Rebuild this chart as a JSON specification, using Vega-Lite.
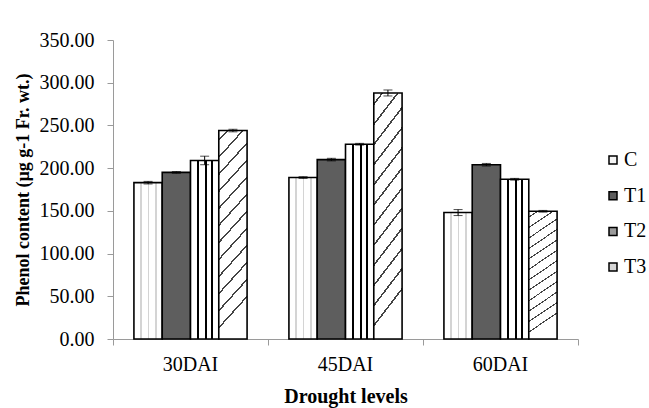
{
  "$schema": "https://vega.github.io/schema/vega-lite/v6.json",
  "width": 465,
  "height": 299,
  "autosize": {"type": "none"},
  "padding": {"left": 113, "top": 40, "right": 71, "bottom": 69},
  "background": "white",
  "config": {
    "view": {"stroke": null},
    "font": "Times New Roman, Liberation Serif, serif",
    "axis": {"labelFont": "Times New Roman, Liberation Serif, serif", "titleFont": "Times New Roman, Liberation Serif, serif", "labelColor": "black", "titleColor": "black", "grid": false, "domainColor": "#9a9a9a", "tickColor": "#9a9a9a"},
    "legend": {"labelFont": "Times New Roman, Liberation Serif, serif"}
  },
  "data": {
    "values": [
      {"day": "30DAI", "trt": "C", "value": 183, "err": 1.5},
      {"day": "30DAI", "trt": "T1", "value": 195, "err": 1},
      {"day": "30DAI", "trt": "T2", "value": 209, "err": 5},
      {"day": "30DAI", "trt": "T3", "value": 244, "err": 1.5},
      {"day": "45DAI", "trt": "C", "value": 189, "err": 1},
      {"day": "45DAI", "trt": "T1", "value": 210, "err": 1.5},
      {"day": "45DAI", "trt": "T2", "value": 228, "err": 1},
      {"day": "45DAI", "trt": "T3", "value": 288, "err": 3.5},
      {"day": "60DAI", "trt": "C", "value": 148, "err": 3.5},
      {"day": "60DAI", "trt": "T1", "value": 204, "err": 1.5},
      {"day": "60DAI", "trt": "T2", "value": 187, "err": 1},
      {"day": "60DAI", "trt": "T3", "value": 149.5, "err": 1}
    ]
  },
  "layer": [
    {
      "encoding": {
        "x": {
          "field": "day", "type": "nominal",
          "scale": {"paddingInner": 0.27, "paddingOuter": 0.135},
          "axis": {"title": "Drought levels", "labelAngle": 0, "ticks": false, "tickSize": 0, "labelFont": "Times New Roman, Liberation Serif, serif", "titleFont": "Times New Roman, Liberation Serif, serif", "labelFontSize": 20, "labelPadding": 15, "titleFontSize": 20, "titleFontWeight": "bold", "titlePadding": 12}
        },
        "xOffset": {"field": "trt", "type": "nominal", "scale": {"domain": ["C", "T1", "T2", "T3"], "paddingInner": 0, "paddingOuter": 0}},
        "y": {
          "field": "value", "type": "quantitative",
          "scale": {"domain": [0, 350], "nice": false},
          "axis": {"values": [0, 50, 100, 150, 200, 250, 300, 350], "format": ".2f", "labelFont": "Times New Roman, Liberation Serif, serif", "titleFont": "Times New Roman, Liberation Serif, serif", "labelFontSize": 20, "labelPadding": 13, "tickSize": 6, "title": "Phenol content (µg g-1 Fr. wt.)", "titleFontSize": 18, "titleFontWeight": "bold", "titlePadding": 7}
        }
      },
      "layer": [
        {
          "transform": [{"filter": "datum.trt === 'C'"}],
          "mark": {"type": "bar", "stroke": "black", "strokeWidth": 1.6,
            "fill": {"gradient": "linear", "x1": 0, "y1": 0, "x2": 1, "y2": 0, "stops": [
              {"offset": 0, "color": "white"}, {"offset": 0.22, "color": "white"}, {"offset": 0.22, "color": "#d4d4d4"}, {"offset": 0.27, "color": "#d4d4d4"}, {"offset": 0.27, "color": "white"},
              {"offset": 0.5, "color": "white"}, {"offset": 0.5, "color": "#d4d4d4"}, {"offset": 0.55, "color": "#d4d4d4"}, {"offset": 0.55, "color": "white"},
              {"offset": 0.76, "color": "white"}, {"offset": 0.76, "color": "#d4d4d4"}, {"offset": 0.81, "color": "#d4d4d4"}, {"offset": 0.81, "color": "white"}, {"offset": 1, "color": "white"}
            ]}}
        },
        {
          "transform": [{"filter": "datum.trt === 'T1'"}],
          "mark": {"type": "bar", "stroke": "black", "strokeWidth": 1.6, "fill": "#5e5e5e"}
        },
        {
          "transform": [{"filter": "datum.trt === 'T2'"}],
          "mark": {"type": "bar", "stroke": "black", "strokeWidth": 1.6,
            "fill": {"gradient": "linear", "x1": 0, "y1": 0, "x2": 1, "y2": 0, "stops": [
              {"offset": 0, "color": "white"}, {"offset": 0.24, "color": "white"}, {"offset": 0.24, "color": "black"}, {"offset": 0.31, "color": "black"}, {"offset": 0.31, "color": "white"},
              {"offset": 0.5, "color": "white"}, {"offset": 0.5, "color": "black"}, {"offset": 0.57, "color": "black"}, {"offset": 0.57, "color": "white"},
              {"offset": 0.74, "color": "white"}, {"offset": 0.74, "color": "black"}, {"offset": 0.81, "color": "black"}, {"offset": 0.81, "color": "white"}, {"offset": 1, "color": "white"}
            ]}}
        },
        {
          "transform": [{"filter": "datum.trt === 'T3'"}],
          "mark": {"type": "bar", "stroke": "black", "strokeWidth": 1.6,
            "fill": {"gradient": "linear", "x1": 0, "y1": 0, "x2": 0.15, "y2": 1, "stops": [
              {"offset": 0, "color": "white"}, {"offset": 0.04, "color": "white"}, {"offset": 0.04, "color": "#444"}, {"offset": 0.05, "color": "#444"}, {"offset": 0.05, "color": "white"},
              {"offset": 0.12, "color": "white"}, {"offset": 0.12, "color": "#444"}, {"offset": 0.13, "color": "#444"}, {"offset": 0.13, "color": "white"},
              {"offset": 0.2, "color": "white"}, {"offset": 0.2, "color": "#444"}, {"offset": 0.21, "color": "#444"}, {"offset": 0.21, "color": "white"},
              {"offset": 0.28, "color": "white"}, {"offset": 0.28, "color": "#444"}, {"offset": 0.29, "color": "#444"}, {"offset": 0.29, "color": "white"},
              {"offset": 0.36, "color": "white"}, {"offset": 0.36, "color": "#444"}, {"offset": 0.37, "color": "#444"}, {"offset": 0.37, "color": "white"},
              {"offset": 0.44, "color": "white"}, {"offset": 0.44, "color": "#444"}, {"offset": 0.45, "color": "#444"}, {"offset": 0.45, "color": "white"},
              {"offset": 0.52, "color": "white"}, {"offset": 0.52, "color": "#444"}, {"offset": 0.53, "color": "#444"}, {"offset": 0.53, "color": "white"},
              {"offset": 0.6, "color": "white"}, {"offset": 0.6, "color": "#444"}, {"offset": 0.61, "color": "#444"}, {"offset": 0.61, "color": "white"},
              {"offset": 0.68, "color": "white"}, {"offset": 0.68, "color": "#444"}, {"offset": 0.69, "color": "#444"}, {"offset": 0.69, "color": "white"},
              {"offset": 0.76, "color": "white"}, {"offset": 0.76, "color": "#444"}, {"offset": 0.77, "color": "#444"}, {"offset": 0.77, "color": "white"},
              {"offset": 0.84, "color": "white"}, {"offset": 0.84, "color": "#444"}, {"offset": 0.85, "color": "#444"}, {"offset": 0.85, "color": "white"},
              {"offset": 0.92, "color": "white"}, {"offset": 0.92, "color": "#444"}, {"offset": 0.93, "color": "#444"}, {"offset": 0.93, "color": "white"}, {"offset": 1, "color": "white"}
            ]}}
        },
        {
          "mark": {"type": "bar", "opacity": 0},
          "encoding": {
            "fill": {
              "field": "trt", "type": "nominal",
              "scale": {"domain": ["C", "T1", "T2", "T3"], "range": ["#f4f4f4", "#5e5e5e", "#9a9a9a", "#d6d6d6"]},
              "legend": {
                "title": null, "orient": "none", "legendX": 490, "legendY": 110,
                "symbolType": "square", "symbolSize": 64, "symbolStrokeColor": "black", "symbolStrokeWidth": 1.5, "symbolOpacity": 1,
                "labelFont": "Times New Roman, Liberation Serif, serif", "labelFontSize": 20, "labelColor": "black", "labelOffset": 1, "rowPadding": 15.7, "padding": 0
              }
            }
          }
        },
        {
          "mark": {"type": "errorbar", "ticks": {"size": 9, "color": "black"}, "color": "black", "thickness": 1},
          "encoding": {
            "yError": {"field": "err"}
          }
        }
      ]
    },
    {
      "mark": {"type": "rule", "opacity": 0},
      "encoding": {
        "x": {"datum": 0, "type": "quantitative", "scale": {"domain": [0, 3], "nice": false, "zero": false}, "axis": {"values": [0, 1, 2, 3], "labels": false, "domain": false, "ticks": true, "tickSize": 6, "title": null, "orient": "bottom", "grid": false}}
      }
    }
  ],
  "resolve": {"scale": {"x": "independent"}}
}
